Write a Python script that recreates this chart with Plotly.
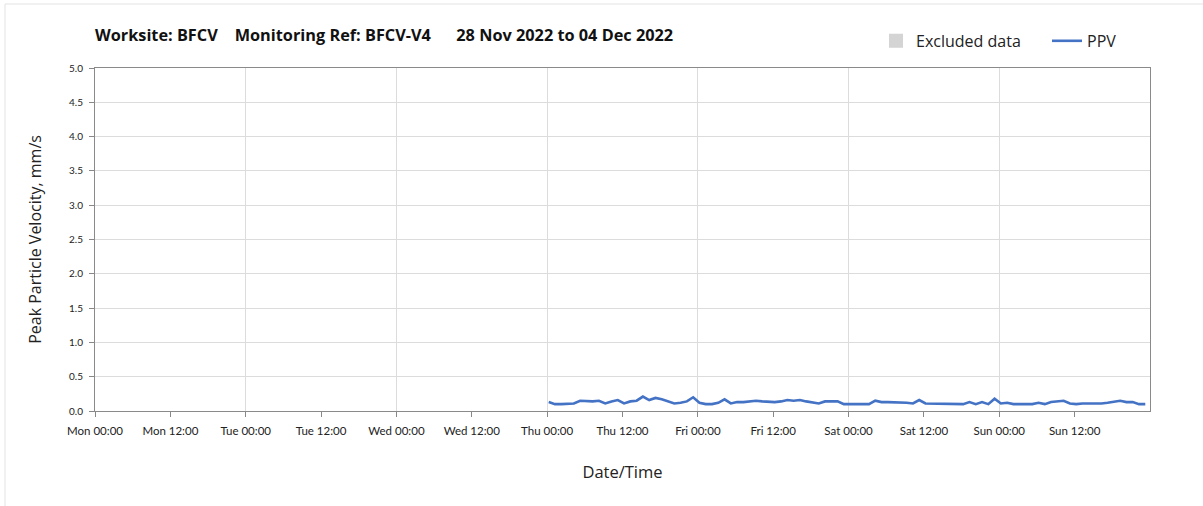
import plotly.graph_objects as go
import pandas as pd

# ---- data ----
start_time = "2022-12-01 00:15"
ppv_values = [
    0.13, 0.10, 0.10, 0.11, 0.11, 0.15, 0.14, 0.14, 0.15, 0.11, 0.14, 0.16,
    0.11, 0.14, 0.15, 0.21, 0.16, 0.19, 0.17, 0.14, 0.11, 0.12, 0.14, 0.20,
    0.12, 0.10, 0.10, 0.12, 0.17, 0.11, 0.13, 0.13, 0.14, 0.15, 0.14, 0.13,
    0.13, 0.14, 0.16, 0.15, 0.16, 0.14, 0.12, 0.11, 0.14, 0.14, 0.14, 0.10,
    0.10, 0.10, 0.11, 0.10, 0.15, 0.13, 0.13, 0.13, 0.13, 0.12, 0.11, 0.16,
    0.11, 0.11, 0.10, 0.10, 0.10, 0.10, 0.10, 0.13, 0.10, 0.13, 0.10, 0.18,
    0.11, 0.12, 0.10, 0.10, 0.10, 0.10, 0.12, 0.10, 0.13, 0.14, 0.15, 0.11,
    0.10, 0.11, 0.11, 0.10, 0.11, 0.12, 0.13, 0.15, 0.13, 0.13, 0.10, 0.10,
]
times = pd.date_range(start_time, periods=len(ppv_values), freq="h")

tick_times = pd.date_range("2022-11-28 00:00", "2022-12-04 12:00", freq="12h")
tick_labels = ["Mon 00:00", "Mon 12:00", "Tue 00:00", "Tue 12:00", "Wed 00:00",
               "Wed 12:00", "Thu 00:00", "Thu 12:00", "Fri 00:00", "Fri 12:00",
               "Sat 00:00", "Sat 12:00", "Sun 00:00", "Sun 12:00"]
x_range = ["2022-11-28 00:00", "2022-12-05 00:00"]
y_ticks = [0.0, 0.5, 1.0, 1.5, 2.0, 2.5, 3.0, 3.5, 4.0, 4.5, 5.0]

FONT = "Open Sans"
TICKFONT = "Lato"

fig = go.Figure()
fig.add_trace(go.Bar(x=[None], y=[None], name="Excluded data",
                     marker=dict(color="#d4d4d4", line=dict(color="#d4d4d4", width=2))))
fig.add_trace(go.Scatter(x=times, y=ppv_values, mode="lines", name="PPV",
                         line=dict(color="#4472C4", width=2.6)))

fig.update_layout(
    width=1203, height=506,
    margin=dict(l=95, r=53, t=68, b=95, autoexpand=False),
    paper_bgcolor="white", plot_bgcolor="white",
    font=dict(family=FONT, color="#222"),
    title=dict(text="<b>Worksite: BFCV&nbsp;&nbsp;&nbsp;&nbsp;Monitoring Ref: BFCV-V4&nbsp;&nbsp;&nbsp;&nbsp;&nbsp;&nbsp;28 Nov 2022 to 04 Dec 2022</b>",
               x=95/1203, xanchor="left", y=1 - 35/506, yanchor="middle",
               font=dict(size=16.3, family=FONT, color="#111")),
    legend=dict(orientation="h", x=(876 - 95) / 1055, xanchor="left", y=1.079, yanchor="middle",
                font=dict(size=16, family=FONT, color="#222"),
                bgcolor="rgba(0,0,0,0)", itemwidth=30,
                entrywidth=126, entrywidthmode="pixels"),
    showlegend=True,
    bargap=0,
)

fig.update_xaxes(
    type="date", range=x_range,
    tickmode="array", tickvals=tick_times, ticktext=tick_labels,
    ticks="outside", ticklen=5, tickcolor="#888", tickwidth=1,
    tickfont=dict(size=11.5, family=TICKFONT, color="#222"),
    ticklabelstandoff=4,
    showgrid=False,
    minor=dict(dtick=86400000, tick0="2022-11-28", showgrid=True,
               gridcolor="#dcdcdc", gridwidth=1, ticks=""),
    showline=True, linecolor="#8a8a8a", linewidth=1, mirror=True,
    title=dict(text="Date/Time", font=dict(size=16.5, family=FONT, color="#222"), standoff=30),
    zeroline=False,
)
fig.update_yaxes(
    range=[0, 5], tickmode="array", tickvals=y_ticks,
    tickformat=".1f",
    ticks="outside", ticklen=5, tickcolor="#888", tickwidth=1,
    tickfont=dict(size=10, family=TICKFONT, color="#222"),
    ticklabelstandoff=4,
    showgrid=True, gridcolor="#dcdcdc", gridwidth=1,
    showline=True, linecolor="#8a8a8a", linewidth=1, mirror=True,
    title=dict(text="Peak Particle Velocity, mm/s", font=dict(size=16, family=FONT, color="#222"),
               standoff=23),
    zeroline=False,
)

# outer frame
fig.add_shape(type="rect", xref="paper", yref="paper",
              x0=(5 - 95) / 1055, x1=1.2, y0=-0.5, y1=(411 - 4) / 343,
              line=dict(color="#e3e3e3", width=1), fillcolor="rgba(0,0,0,0)", layer="below")

fig.write_html("out.html", config={"displayModeBar": False},
               post_script="document.body.style.margin='0px';")
